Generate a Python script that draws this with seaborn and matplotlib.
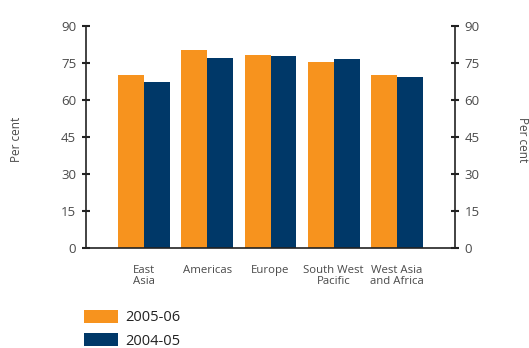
import matplotlib
matplotlib.use("Agg")
import matplotlib.pyplot as plt
import seaborn as sns
import pandas as pd

regions = ["East\nAsia", "Americas", "Europe", "South West\nPacific", "West Asia\nand Africa"]
years = ["2005-06", "2004-05"]
values_2005_06 = [70.1, 80.3, 78.2, 75.4, 70.0]
values_2004_05 = [67.3, 77.0, 77.8, 76.6, 69.3]
y_ticks = [0, 15, 30, 45, 60, 75, 90]

df = pd.DataFrame({
    "region": regions * 2,
    "year": [years[0]] * len(regions) + [years[1]] * len(regions),
    "pct": values_2005_06 + values_2004_05,
})

sns.set_theme(style="white")
plt.rcParams["font.family"] = ["Open Sans", "DejaVu Sans"]
text_col = "#4a4a4a"

fig = plt.figure(figsize=(5.29, 3.48), dpi=100)
ax = fig.add_axes([86 / 529, 1 - 248 / 348, (455 - 86) / 529, (248 - 26) / 348])

sns.barplot(data=df, x="region", y="pct", hue="year", hue_order=years,
            order=regions, palette=["#F7931E", "#003868"], width=0.82,
            saturation=1, linewidth=0, edgecolor="none", ax=ax, legend=True)

ax.set_xlim(-0.92, 4.92)
ax.set_ylim(0, 90)
ax.set_yticks(y_ticks)
ax.set_xlabel("")
ax.set_ylabel("Per cent", color=text_col, fontsize=8.5)
ax.yaxis.set_label_coords(-0.171, 0.49)

for s in ["top", "right"]:
    ax.spines[s].set_visible(False)
for s in ["left", "bottom"]:
    ax.spines[s].set_color("#222222")
    ax.spines[s].set_linewidth(1.2)

ax.tick_params(axis="y", direction="inout", length=6, width=1.5, color="#222222",
               labelsize=9.5, labelcolor=text_col, pad=4, left=True)
ax.tick_params(axis="x", length=0, labelsize=8.2, labelcolor=text_col, pad=12)
for lbl in ax.get_xticklabels():
    lbl.set_linespacing(1.0)

ax2 = ax.twinx()
ax2.set_ylim(0, 90)
ax2.set_yticks(y_ticks)
for s in ["top", "left", "bottom"]:
    ax2.spines[s].set_visible(False)
ax2.spines["right"].set_color("#222222")
ax2.spines["right"].set_linewidth(1.2)
ax2.tick_params(axis="y", direction="inout", length=6, width=1.5, color="#222222",
                labelsize=9.5, labelcolor=text_col, pad=4, right=True)
ax2.set_ylabel("Per cent", color=text_col, fontsize=8.5, rotation=-90,
               va="center")
ax2.yaxis.set_label_coords(1.182, 0.49)
ax2.grid(False)
ax.grid(False)

handles, labels = ax.get_legend_handles_labels()
ax.get_legend().remove()
fig.legend(handles, labels, loc="upper left",
           bbox_to_anchor=(84 / 529, 1 - 310 / 348),
           frameon=False, fontsize=10.5, labelcolor="#222222",
           handlelength=2.3, handleheight=0.95, handletextpad=0.5,
           labelspacing=0.55, borderpad=0, borderaxespad=0)

fig.savefig("out.png", dpi=100)
